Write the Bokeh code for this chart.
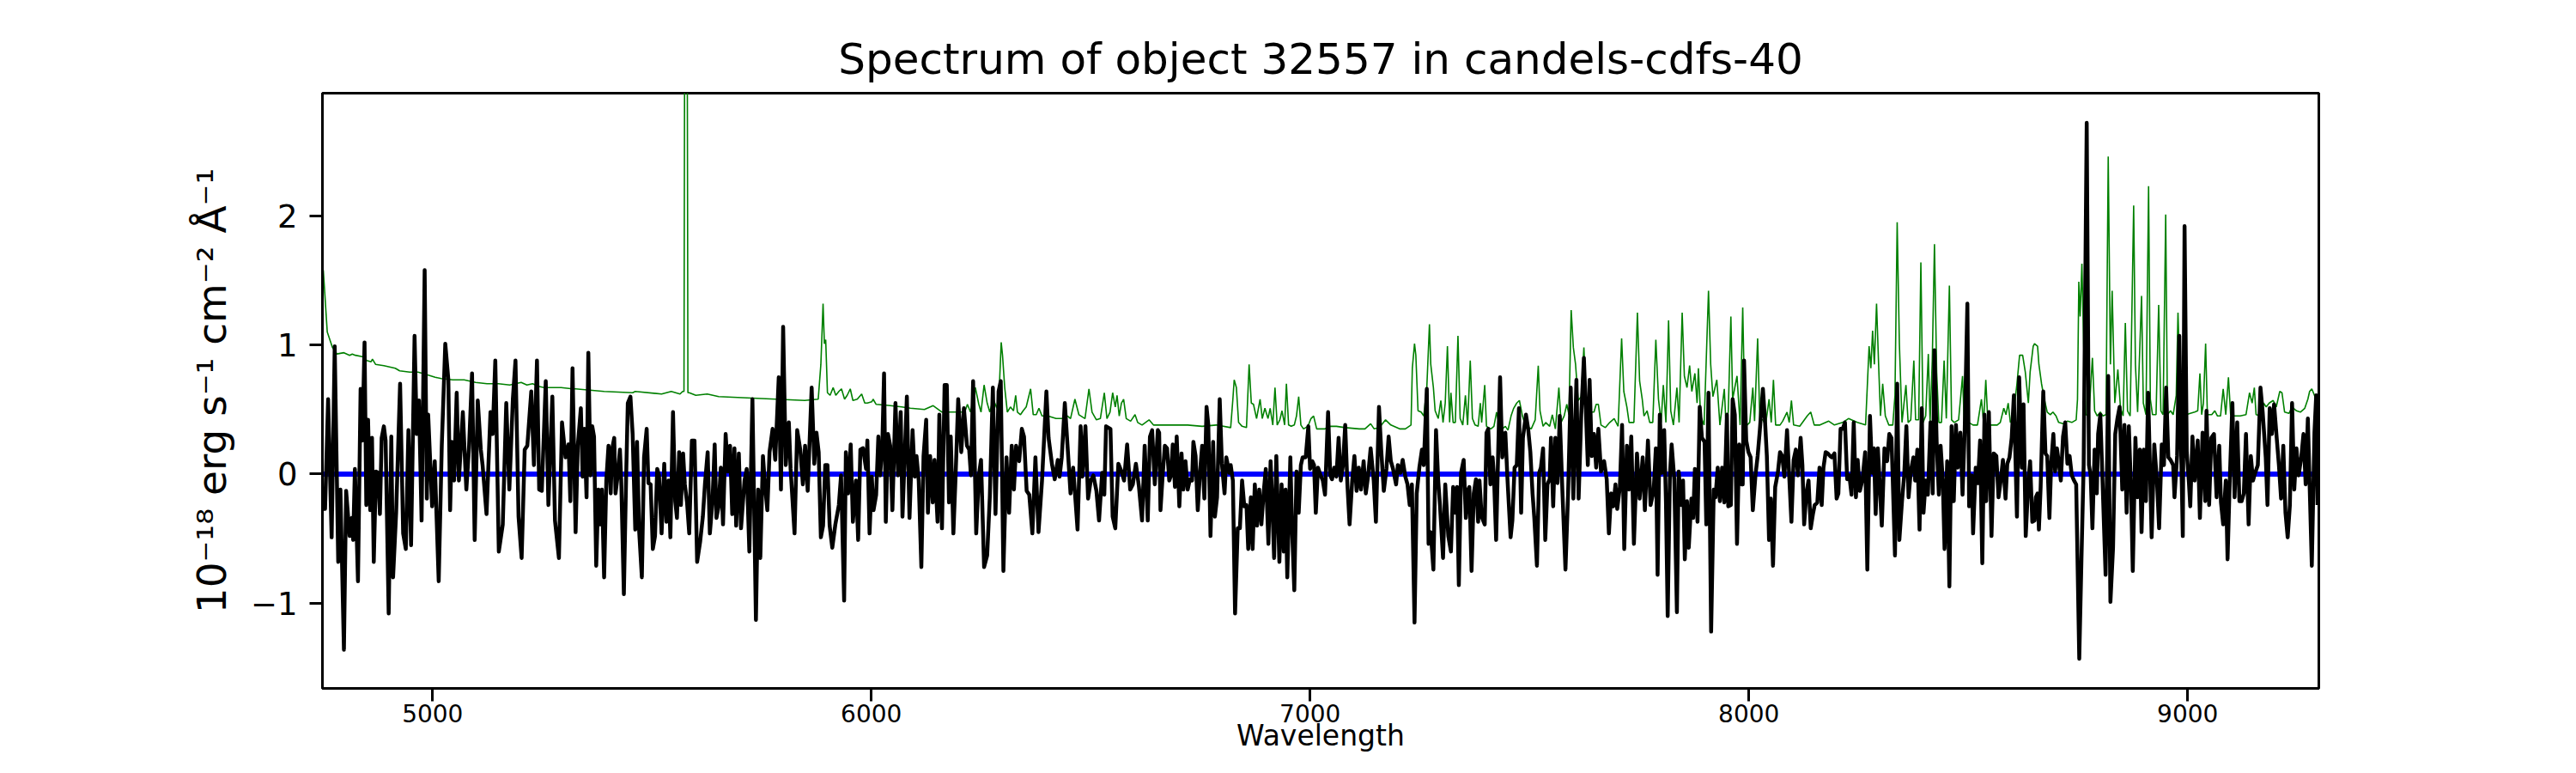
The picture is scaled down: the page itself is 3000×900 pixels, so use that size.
from bokeh.plotting import figure
from bokeh.models import Range1d, FixedTicker
from bokeh.embed import file_html
from bokeh.resources import INLINE

# ---------------- data ----------------
# observed flux, 1e-18 erg/s/cm2/A, by wavelength chunk (Angstrom)
wave_a = [4751,4755,4762,4770,4777,4785,4790,4798,4803,4811,4816,4819,4823,4830,4836,4840,4845,4849,4853,4858,
          4862,4866,4871,4876,4880,4884,4889,4893,4900,4906,4910,4917,4926,4933,4939,4945,4951,4959,4964,4969,
          4975,4982,4987,4990,4999,5005,5014,5021,5029,5036,5040,5044,5049,5055,5060,5069,5077,5083,5090,5096,
          5103,5110,5114,5123,5132,5137,5143,5151,5160,5168,5175,5183,5189,5196,5203,5210,5216,5225,5231,5238,
          5243,5249,5258,5264,5273,5279,5288,5295,5303,5310,5314,5319]
flux_a = [-0.27,-0.27,0.58,-0.49,0.99,-0.68,-0.12,-1.36,-0.13,-0.48,-0.34,-0.51,0.04,-0.83,0.66,0.26,1.02,-0.24,0.42,-0.28,
          0.28,-0.68,0.02,0.01,-0.31,0.28,0.37,0.26,-1.08,0.29,-0.80,-0.30,0.70,-0.46,-0.58,0.34,-0.55,1.07,0.31,0.57,
          -0.36,1.58,-0.19,0.46,-0.25,0.10,-0.83,0.22,1.01,0.73,-0.28,0.25,-0.05,0.63,-0.05,0.48,-0.12,0.20,0.78,-0.51,
          0.57,0.19,0.07,-0.31,0.48,0.31,0.88,-0.60,-0.39,0.55,-0.12,0.58,0.88,-0.33,-0.65,0.19,0.22,0.64,0.07,0.88,
          -0.12,-0.13,0.72,-0.24,0.60,-0.36,-0.65,0.40,0.13,0.23,-0.21,0.82]

wave_b = [5326,5331,5338,5342,5346,5351,5355,5360,5364,5368,5373,5378,5383,5386,5391,5396,5401,5406,5409,5414,
          5417,5422,5427,5430,5436,5441,5445,5451,5456,5462,5466,5471,5477,5482,5488,5492,5497,5502,5507,5512,
          5516,5522,5528,5533,5538,5542,5548,5553,5557,5562,5566,5571,5575,5580,5585,5591,5597,5603,5610,5616,
          5621,5627,5632,5638,5643,5647,5652,5657,5662,5668,5673,5678,5683,5688,5692,5698,5703,5711,5716,5722,
          5729,5737,5742,5747,5753,5758,5763,5768,5775,5781,5789,5794,5799,5805,5812,5816,5825,5831,5838,5844,
          5849,5855,5864,5870,5875,5880,5885,5890,5895,5900,5905,5911,5918,5926,5931,5938,5942,5947,5953,5958,
          5965,5970,5975,5981,5988]
flux_b = [-0.45,0.22,0.51,-0.02,0.35,-0.18,0.94,-0.01,0.37,0.29,-0.71,-0.12,-0.39,-0.12,-0.80,-0.05,0.22,-0.15,0.19,0.28,
          -0.15,-0.01,0.19,-0.05,-0.93,-0.05,0.55,0.60,0.31,-0.43,0.25,-0.45,-0.80,0.13,0.35,-0.07,-0.08,-0.58,-0.48,0.04,
          -0.01,-0.46,0.08,-0.37,-0.05,-0.49,0.48,-0.21,-0.34,0.17,-0.24,0.16,-0.08,-0.22,-0.46,0.26,0.26,-0.68,-0.52,-0.33,
          -0.07,0.17,-0.46,-0.21,0.23,-0.34,-0.25,0.05,-0.39,0.31,0.02,0.22,-0.31,0.20,-0.40,0.16,-0.42,-0.05,0.04,-0.60,
          0.58,-1.13,-0.12,-0.65,0.14,-0.10,-0.28,0.17,0.35,0.11,0.75,-0.12,1.14,0.07,0.40,0.04,-0.46,0.34,0.19,-0.08,
          0.22,-0.13,0.67,0.08,0.32,0.17,-0.49,-0.40,0.07,0.07,-0.40,-0.57,-0.39,-0.24,-0.01,-0.98,0.17,-0.15,0.23,-0.37,
          -0.05,-0.51,0.19,0.20,0.04]

wave_c = [5991,5996,6001,6005,6011,6016,6020,6025,6029,6033,6038,6043,6048,6055,6061,6067,6071,6076,6081,6087,
          6094,6099,6103,6108,6114,6119,6125,6129,6134,6140,6144,6151,6155,6161,6167,6172,6177,6181,6187,6192,
          6198,6205,6211,6218,6223,6227,6232,6239,6245,6250,6257,6264,6270,6277,6283,6290,6295,6301,6308,6314,
          6320,6325,6330,6337,6343,6348,6354,6360,6367,6374,6381,6389,6394,6399,6404,6412,6418,6425,6429,6434,
          6441,6447,6454,6460,6470,6477,6481,6488,6494,6500,6506,6513,6519,6526,6531,6535,6545,6550,6556,6563,
          6570,6576,6583,6590,6596,6603,6610,6617,6623,6630,6635,6640,6646,6653]
flux_c = [0.26,-0.46,-0.02,-0.28,-0.16,0.29,-0.01,0.22,0.78,-0.37,0.31,0.22,-0.28,0.55,-0.01,0.48,-0.33,0.13,0.60,-0.34,
          0.34,-0.02,0.14,-0.05,-0.72,0.14,0.42,-0.30,0.14,-0.22,0.11,-0.37,0.46,-0.42,0.69,0.69,-0.22,0.29,-0.46,-0.02,
          0.58,0.17,0.51,0.22,0.19,-0.01,0.72,-0.46,-0.01,0.11,-0.72,-0.63,-0.18,0.67,-0.31,0.64,0.72,-0.75,0.13,-0.30,
          0.22,-0.12,0.22,0.10,0.35,0.29,-0.13,-0.16,-0.46,0.13,-0.45,-0.05,0.29,0.64,0.28,0.07,-0.04,0.11,-0.02,0.13,
          0.55,0.23,-0.15,0.05,-0.43,0.37,-0.02,0.37,-0.19,-0.05,-0.01,-0.13,-0.36,0.01,-0.16,0.37,0.35,-0.33,-0.42,0.08,
          0.02,-0.05,0.23,-0.12,-0.08,0.08,-0.10,-0.36,0.22,-0.36,0.29,0.34,-0.08,0.34]

wave_d = [6656,6659,6664,6669,6674,6679,6683,6687,6692,6696,6702,6707,6711,6716,6721,6726,6731,6734,6739,6744,
          6749,6754,6759,6764,6768,6773,6779,6783,6788,6794,6799,6805,6809,6816,6819,6824,6829,6835,6840,6845,
          6850,6855,6859,6865,6869,6874,6879,6884,6889,6894,6899,6905,6910,6914,6918,6923,6930,6935,6940,6944,
          6948,6955,6959,6964,6969,6974,6979,6983,6990,6996,7000,7005,7009,7013,7018,7024,7029,7034,7041,7046,
          7050,7055,7060,7065,7070,7075,7080,7085,7090,7096,7101,7106,7111,7116,7122,7127,7132,7138,7145,7150,
          7157,7162,7168,7174,7179,7184,7189,7196,7200,7206,7211,7217,7222,7227,7232,7238,7243,7249,7255,7259,
          7266,7270,7275,7281,7287,7292,7296,7303,7308,7315]
flux_d = [0.32,-0.28,-0.01,0.22,0.20,-0.05,-0.01,0.23,-0.10,0.29,-0.25,0.16,-0.12,0.10,-0.12,-0.04,-0.05,0.25,0.14,-0.28,
          0.01,0.22,-0.19,0.52,0.38,-0.48,0.25,-0.33,-0.18,0.58,0.08,-0.15,0.13,0.01,0.07,-0.05,-1.08,-0.42,-0.42,-0.05,
          -0.25,-0.24,-0.58,-0.18,-0.58,-0.08,-0.40,-0.12,-0.39,-0.15,0.04,-0.54,0.10,-0.24,-0.65,0.14,-0.68,-0.08,-0.60,-0.12,
          -0.80,0.13,-0.43,-0.90,0.02,-0.30,0.07,0.13,0.13,0.37,0.04,0.10,0.07,-0.30,0.05,-0.01,-0.05,-0.16,0.48,-0.01,
          -0.04,0.05,-0.02,0.28,-0.05,0.07,0.38,-0.08,-0.39,-0.05,0.14,-0.13,0.05,-0.12,0.10,-0.15,-0.02,0.20,-0.05,-0.37,
          0.52,0.19,-0.13,0.04,0.29,0.10,0.04,-0.08,0.07,0.01,0.11,-0.02,-0.08,-0.24,-0.08,-1.15,-0.15,0.05,0.19,0.07,
          0.66,-0.54,-0.45,-0.74,0.34,-0.05,-0.24,-0.65,-0.08,-0.48]

wave_e = [7321,7326,7331,7335,7339,7344,7350,7355,7359,7363,7368,7373,7378,7383,7386,7391,7398,7402,7406,7411,
          7416,7419,7424,7429,7433,7438,7445,7450,7457,7461,7466,7471,7476,7481,7485,7492,7497,7502,7507,7511,
          7517,7522,7526,7531,7536,7541,7546,7549,7554,7559,7564,7569,7575,7582,7588,7594,7600,7607,7612,7618,
          7624,7629,7633,7637,7642,7647,7652,7657,7663,7670,7676,7681,7686,7691,7696,7700,7706,7711,7716,7722,
          7727,7732,7738,7745,7751,7758,7763,7770,7776,7783,7788,7792,7797,7802,7807,7811,7815,7820,7824,7830,
          7836,7840,7846,7850,7854,7859,7863,7869,7873,7877,7883,7888,7893,7899,7903,7908,7914,7920,7924,7929,
          7934,7939,7944,7950,7953,7959,7963,7968,7973,7978,7983]
flux_e = [-0.60,-0.10,-0.30,-0.10,-0.86,0.01,0.11,-0.34,-0.13,-0.10,-0.75,-0.15,-0.04,-0.37,-0.05,-0.33,-0.39,0.32,0.35,-0.08,
          0.13,-0.01,-0.51,0.22,0.75,0.13,0.32,-0.05,-0.49,-0.36,0.05,0.07,0.51,-0.30,0.28,0.46,0.35,0.17,-0.15,-0.34,
          -0.71,0.01,0.05,0.20,-0.51,-0.08,-0.04,0.28,-0.25,0.28,-0.07,0.45,-0.13,-0.74,-0.15,0.67,-0.19,0.73,-0.19,0.46,
          0.90,0.45,0.07,0.73,0.14,0.31,0.05,0.35,0.02,0.10,-0.04,-0.46,-0.15,-0.25,-0.08,-0.27,-0.10,0.38,-0.58,0.22,
          -0.12,0.29,-0.54,0.16,-0.19,0.13,-0.28,0.26,-0.24,-0.13,0.20,-0.78,0.46,0.01,0.34,-0.21,-1.10,-0.01,0.23,-0.04,
          -1.07,0.02,-0.24,-0.05,-0.66,-0.21,-0.57,-0.19,-0.34,0.04,-0.37,0.52,0.28,0.25,-0.39,0.63,-1.22,-0.12,-0.18,0.05,
          -0.21,0.05,-0.22,0.46,-0.25,-0.24,0.58,0.46,-0.54,0.23,-0.08]

wave_f = [7986,7989,7994,7999,8004,8009,8015,8020,8025,8032,8037,8041,8046,8050,8055,8060,8066,8071,8076,8081,
          8087,8092,8097,8102,8107,8112,8118,8122,8126,8131,8136,8141,8146,8150,8156,8161,8166,8170,8175,8180,
          8185,8189,8195,8200,8204,8209,8214,8219,8224,8229,8234,8239,8244,8248,8253,8259,8265,8270,8276,8281,
          8285,8289,8294,8298,8303,8309,8315,8320,8325,8328,8333,8338,8343,8349,8354,8359,8364,8369,8375,8379,
          8384,8389,8394,8398,8403,8408,8414,8419,8423,8428,8433,8437,8442,8446,8452,8457,8462,8467,8472,8476,
          8482,8487,8492,8498,8502,8508,8511,8517,8522,8527,8532,8537,8541,8547,8553,8558,8564,8569,8574,8579,
          8585,8589,8594,8599,8604,8611,8616,8622,8626,8631,8637,8641,8646]
flux_f = [-0.08,0.88,0.26,0.17,0.13,-0.28,-0.01,0.14,0.34,0.66,0.40,0.14,-0.51,-0.19,-0.71,-0.10,0.01,0.17,0.14,-0.02,
          0.34,-0.02,-0.37,0.11,0.19,-0.01,0.28,0.07,-0.39,-0.15,-0.05,-0.42,-0.31,-0.24,-0.22,0.05,-0.24,0.05,0.17,0.16,
          0.14,0.13,0.16,-0.19,-0.15,0.35,0.35,0.40,-0.04,-0.01,-0.16,0.40,-0.18,0.11,-0.13,-0.04,0.17,-0.74,0.45,0.01,
          0.20,-0.31,0.20,-0.07,-0.40,0.20,0.10,0.31,0.28,-0.05,-0.63,0.70,-0.51,-0.21,-0.01,0.37,-0.18,0.02,0.13,-0.05,
          0.19,-0.43,0.51,-0.30,-0.05,-0.16,0.40,-0.15,0.96,0.25,-0.16,0.22,-0.05,-0.58,0.10,-0.87,0.37,-0.21,0.38,0.05,
          0.32,-0.16,0.35,1.32,-0.25,-0.01,-0.46,0.05,-0.07,0.26,-0.69,0.46,-0.21,0.48,-0.48,0.16,0.14,-0.18,-0.05,0.11,
          -0.19,0.08,0.13,0.28,0.61,-0.33,0.75,0.05,0.54,-0.48,-0.05,0.10,-0.37]

wave_g = [8651,8654,8658,8661,8665,8671,8676,8680,8685,8689,8694,8698,8702,8706,8711,8716,8721,8726,8731,8736,
          8741,8746,8753,8758,8763,8770,8775,8779,8783,8788,8793,8796,8801,8806,8813,8819,8824,8830,8835,8840,
          8845,8851,8856,8861,8866,8871,8875,8881,8886,8891,8895,8900,8905,8910,8918,8924,8930,8935,8941,8946,
          8951,8956,8961,8967,8970,8976,8981,8985,8989,8993,8998,9003,9006,9011,9016,9023,9028,9034,9040,9043,
          9049,9054,9060,9066,9072,9076,9081,9087,9091,9096,9102,9107,9113,9118,9123,9128,9133,9139,9144,9149,
          9154,9160,9166,9171,9178,9182,9187,9192,9197,9203,9208,9213,9218,9223,9228,9233,9238,9243,9248,9253,
          9259,9264,9269,9274,9278,9283,9289,9293,9296]
flux_g = [-0.36,-0.18,-0.15,-0.43,-0.10,0.64,0.16,0.14,-0.34,0.08,0.31,0.02,0.20,0.10,-0.05,0.29,0.40,0.08,0.14,-0.01,
          -0.05,-0.08,-1.43,-0.66,0.07,2.72,0.07,-0.01,-0.42,0.19,-0.15,0.31,0.46,-0.05,-0.78,0.76,-0.99,-0.57,0.31,0.43,
          0.52,-0.12,0.38,-0.30,0.37,-0.12,-0.75,0.28,-0.18,0.19,-0.45,0.19,-0.21,0.63,-0.49,0.23,-0.05,-0.42,0.23,0.07,
          0.67,0.13,0.11,0.07,-0.18,0.14,1.07,0.22,-0.48,1.92,0.17,-0.07,-0.25,0.29,-0.05,0.26,-0.34,0.32,-0.21,0.49,
          -0.24,0.28,0.31,-0.18,0.22,-0.22,-0.39,-0.05,-0.66,-0.05,0.55,-0.18,0.40,-0.21,-0.21,-0.15,0.31,-0.39,0.14,-0.05,
          0.01,0.07,0.67,0.48,0.13,-0.24,0.51,0.31,0.54,0.28,0.07,-0.19,0.22,-0.30,-0.49,-0.24,0.55,-0.12,0.20,-0.01,
          0.13,0.31,-0.08,0.43,-0.08,-0.71,0.32,0.61,-0.24]

# green spectrum (sky / noise level), same units
sky_wave_a = [4751,4760,4772,4782,4798,4811,4817,4824,4840,4850,4860,4863,4870,4889,4915,4925,4948,4967,4987,5006,
              5020,5046,5072,5098,5124,5150,5176,5202,5215,5228,5241,5254,5274,5293,5319]
sky_a = [1.58,1.10,0.98,0.93,0.94,0.92,0.93,0.92,0.91,0.88,0.87,0.89,0.85,0.84,0.82,0.80,0.79,0.79,0.77,0.75,
         0.74,0.73,0.73,0.71,0.70,0.70,0.69,0.71,0.69,0.70,0.68,0.67,0.67,0.67,0.66]
sky_wave_b = [5326,5391,5456,5462,5522,5544,5564,5570,5573,5576,5579,5582,5585,5600,5626,5652,5717,5782,5848,5879,
              5885,5890,5893,5896,5900,5906,5913,5919,5926,5932,5939,5945,5952,5958,5968,5978,5985]
sky_b = [0.66,0.64,0.63,0.64,0.62,0.64,0.62,0.64,0.64,6.0,6.0,0.63,0.63,0.61,0.62,0.60,0.59,0.58,0.57,0.58,
         0.85,1.32,1.01,1.04,0.63,0.61,0.67,0.61,0.64,0.66,0.58,0.61,0.66,0.57,0.58,0.62,0.55]
sky_wave_c = [5991,6001,6004,6011,6043,6069,6089,6121,6141,6161,6187,6213,6219,6226,6232,6237,6245,6250,6257,6264,
              6270,6278,6286,6291,6296,6299,6304,6310,6317,6324,6329,6333,6340,6346,6353,6363,6369,6376,6382,6389,
              6402,6421,6441,6447,6454,6464,6473,6487,6496,6503,6513,6522,6531,6537,6544,6550,6556,6560,6565,6570,
              6575,6581,6591,6601,6607,6617,6633,6643,6656]
sky_c = [0.55,0.56,0.58,0.54,0.53,0.52,0.51,0.50,0.53,0.48,0.48,0.48,0.54,0.48,0.58,0.67,0.54,0.48,0.69,0.55,
         0.48,0.58,0.51,0.61,1.02,0.92,0.67,0.48,0.52,0.49,0.61,0.48,0.46,0.49,0.52,0.66,0.46,0.46,0.51,0.45,
         0.45,0.43,0.43,0.45,0.43,0.58,0.46,0.43,0.66,0.48,0.42,0.43,0.63,0.43,0.48,0.63,0.52,0.61,0.45,0.55,
         0.58,0.43,0.41,0.46,0.40,0.38,0.42,0.38,0.38]
sky_wave_d = [6682,6695,6721,6754,6786,6819,6824,6827,6832,6837,6845,6855,6861,6866,6871,6878,6886,6891,6897,6904,
              6909,6915,6920,6925,6931,6936,6942,6946,6951,6957,6964,6969,6974,6979,6985,6995,7002,7008,7015,7034,
              7047,7060,7080,7112,7125,7138,7146,7158,7172,7184,7204,7217,7230,7233,7238,7241,7246,7253,7259,7266,
              7272,7275,7281,7285,7292,7298,7303,7308,7313,7318]
sky_d = [0.38,0.38,0.38,0.37,0.38,0.36,0.58,0.73,0.67,0.40,0.37,0.36,0.85,0.55,0.54,0.43,0.58,0.43,0.51,0.43,
         0.51,0.38,0.67,0.38,0.42,0.49,0.38,0.70,0.38,0.37,0.38,0.45,0.60,0.38,0.35,0.37,0.43,0.45,0.35,0.35,
         0.37,0.37,0.36,0.35,0.35,0.39,0.35,0.36,0.42,0.38,0.35,0.35,0.38,0.82,1.01,0.92,0.49,0.48,0.45,0.67,
         1.16,0.85,0.67,0.49,0.43,0.57,0.40,0.55,0.99,0.40]
sky_wave_e = [7321,7326,7331,7337,7342,7348,7354,7359,7365,7370,7376,7383,7388,7391,7398,7402,7412,7419,7425,7432,
              7438,7445,7451,7458,7464,7471,7477,7484,7491,7504,7513,7520,7524,7531,7537,7546,7552,7559,7567,7572,
              7579,7585,7590,7595,7600,7605,7611,7618,7624,7629,7634,7640,7647,7652,7657,7663,7673,7683,7693,7702,
              7710,7715,7722,7727,7738,7746,7751,7757,7761,7768,7774,7781,7788,7794,7800,7805,7811,7817,7822,7828,
              7836,7841,7848,7853,7859,7865,7870,7877,7882,7885,7890,7898,7908,7913,7918,7927,7934,7944,7948,7953,
              7959,7963,7973,7980]
sky_e = [0.63,0.40,0.40,1.07,0.43,0.38,0.61,0.38,0.88,0.43,0.38,0.37,0.55,0.40,0.69,0.37,0.35,0.37,0.48,0.37,
         0.35,0.37,0.34,0.45,0.51,0.55,0.57,0.45,0.37,0.35,0.42,0.84,0.49,0.37,0.40,0.37,0.46,0.35,0.67,0.40,
         0.45,0.54,0.46,1.27,0.98,0.85,0.57,0.60,0.98,0.58,0.42,0.48,0.48,0.54,0.54,0.38,0.36,0.40,0.43,0.37,
         1.05,0.64,0.52,0.40,0.40,1.25,0.72,0.58,0.45,0.49,0.40,0.40,1.04,0.58,0.40,0.69,0.40,1.19,0.49,0.38,
         0.67,0.40,1.25,0.76,0.67,0.84,0.64,0.78,0.55,0.82,0.45,0.38,1.42,0.85,0.60,0.73,0.38,0.66,0.38,0.48,
         1.22,0.58,0.76,0.38]
sky_wave_f = [7986,7991,7996,8002,8009,8013,8020,8025,8032,8038,8046,8051,8056,8061,8071,8077,8087,8092,8097,8102,
              8116,8133,8141,8149,8162,8182,8195,8214,8227,8247,8266,8274,8278,8282,8286,8291,8296,8300,8305,8311,
              8319,8328,8333,8338,8343,8349,8358,8363,8369,8376,8380,8387,8392,8397,8403,8409,8413,8418,8423,8428,
              8433,8439,8445,8450,8457,8462,8468,8478,8487,8491,8501,8511,8521,8530,8535,8540,8545,8553,8566,8573,
              8581,8586,8591,8596,8602,8611,8617,8624,8630,8637,8641,8648]
sky_f = [1.29,0.43,0.38,0.40,0.67,0.41,1.05,0.42,0.42,0.38,0.58,0.40,0.73,0.38,0.38,0.41,0.48,0.40,0.57,0.38,
         0.37,0.45,0.48,0.38,0.38,0.41,0.38,0.40,0.43,0.40,0.38,0.99,0.82,1.11,0.85,1.32,0.82,0.45,0.70,0.45,
         0.38,0.38,0.61,1.95,1.01,0.40,0.69,0.40,0.42,0.88,0.42,0.42,1.64,0.40,0.45,0.93,0.40,0.88,1.78,0.79,
         0.40,0.40,0.88,0.43,1.46,0.42,0.40,0.42,0.76,0.38,0.40,0.38,0.38,0.58,0.40,0.73,0.38,0.38,0.38,0.40,
         0.51,0.46,0.55,0.40,0.43,0.70,0.92,0.92,0.79,0.55,0.79,0.99]
sky_wave_g = [8651,8658,8661,8667,8674,8680,8687,8693,8700,8706,8716,8726,8736,8746,8749,8752,8755,8759,8763,8768,
              8775,8783,8788,8794,8801,8807,8814,8819,8824,8828,8834,8841,8847,8853,8858,8863,8869,8877,8881,8886,
              8895,8899,8905,8911,8915,8920,8928,8934,8939,8944,8950,8954,8961,8967,8974,8978,8982,8987,8997,9006,
              9016,9023,9028,9032,9036,9041,9045,9055,9062,9068,9075,9081,9087,9093,9098,9107,9120,9133,9141,9147,
              9152,9156,9166,9173,9179,9186,9195,9202,9210,9215,9221,9231,9238,9248,9257,9267,9274,9278,9283,9289,
              9293,9296]
sky_g = [1.01,0.99,0.85,0.70,0.57,0.48,0.46,0.48,0.45,0.40,0.39,0.41,0.40,0.42,0.58,1.49,1.22,1.63,1.01,0.46,
         0.45,0.90,0.49,0.45,0.48,0.45,0.46,2.46,0.85,1.42,0.55,0.81,0.51,0.45,1.17,0.49,0.45,2.08,0.85,0.48,
         1.38,0.55,0.46,2.23,0.58,0.46,0.46,1.31,0.49,0.46,2.01,0.46,0.49,0.46,0.61,1.25,0.79,0.45,0.46,0.47,
         0.48,0.49,0.78,0.46,0.55,1.01,0.46,0.46,0.49,0.45,0.45,0.66,0.46,0.75,0.46,0.45,0.45,0.46,0.63,0.55,
         0.67,0.46,0.45,0.55,0.52,0.55,0.57,0.52,0.64,0.63,0.48,0.47,0.52,0.49,0.48,0.51,0.58,0.64,0.66,0.61,
         0.57,0.58]

x_ticks = [5000, 6000, 7000, 8000, 9000]
y_ticks = [-1, 0, 1, 2]
y_tick_labels = {-1: "\u22121", 0: "0", 1: "1", 2: "2"}
x_limits = (4749, 9299)
y_limits = (-1.66, 2.95)
zero_level = 0.0

title_text = "Spectrum of object 32557 in candels-cdfs-40"
x_label = "Wavelength"
y_label = "10\u207b\u00b9\u2078 erg s\u207b\u00b9 cm\u207b\u00b2 \u00c5\u207b\u00b9"

wave = wave_a + wave_b + wave_c + wave_d + wave_e + wave_f + wave_g
flux = flux_a + flux_b + flux_c + flux_d + flux_e + flux_f + flux_g
sky_wave = sky_wave_a + sky_wave_b + sky_wave_c + sky_wave_d + sky_wave_e + sky_wave_f + sky_wave_g
sky = sky_a + sky_b + sky_c + sky_d + sky_e + sky_f + sky_g

# ---------------- figure ----------------
FONT = "DejaVu Sans"
W, H = 2984, 884
p = figure(width=W, height=H, output_backend="svg", toolbar_location=None,
           x_range=Range1d(*x_limits), y_range=Range1d(*y_limits),
           min_border_left=375, min_border_right=W - 2700, min_border_top=108, min_border_bottom=H - 801,
           title=title_text)
p.background_fill_color = "white"
p.border_fill_color = "white"
p.grid.visible = False
p.outline_line_color = "black"
p.outline_line_width = 3
p.outline_line_alpha = 1.0

p.title.text_font = FONT
p.title.text_font_size = "50px"
p.title.text_font_style = "normal"
p.title.align = "center"
p.title.text_color = "black"
p.title.standoff = 21

for ax in (p.xaxis[0], p.yaxis[0]):
    ax.axis_line_width = 3
    ax.axis_line_color = "black"
    ax.major_tick_line_width = 3
    ax.major_tick_line_color = "black"
    ax.major_tick_out = 15
    ax.major_tick_in = 0
    ax.minor_tick_line_color = None
    ax.major_label_text_font = FONT
    ax.major_label_text_color = "black"
    ax.axis_label_text_font = FONT
    ax.axis_label_text_font_style = "normal"
    ax.axis_label_text_color = "black"

xa = p.xaxis[0]
xa.ticker = FixedTicker(ticks=x_ticks)
xa.major_label_text_font_size = "28px"
xa.major_label_standoff = 3
xa.axis_label = x_label
xa.axis_label_text_font_size = "33px"
xa.axis_label_standoff = -7

ya = p.yaxis[0]
ya.ticker = FixedTicker(ticks=y_ticks)
ya.major_label_overrides = y_tick_labels
ya.major_label_text_font_size = "37px"
ya.major_label_standoff = 14
ya.axis_label = y_label
ya.axis_label_text_font_size = "47px"
ya.axis_label_standoff = 15

p.line(sky_wave, sky, line_color="#008000", line_width=1.6)
p.line([wave[0], wave[-1]], [zero_level, zero_level], line_color="#0000ff", line_width=6)
p.line(wave, flux, line_color="black", line_width=4.5, line_join="round")

open("out.html", "w").write(file_html(p, INLINE))
